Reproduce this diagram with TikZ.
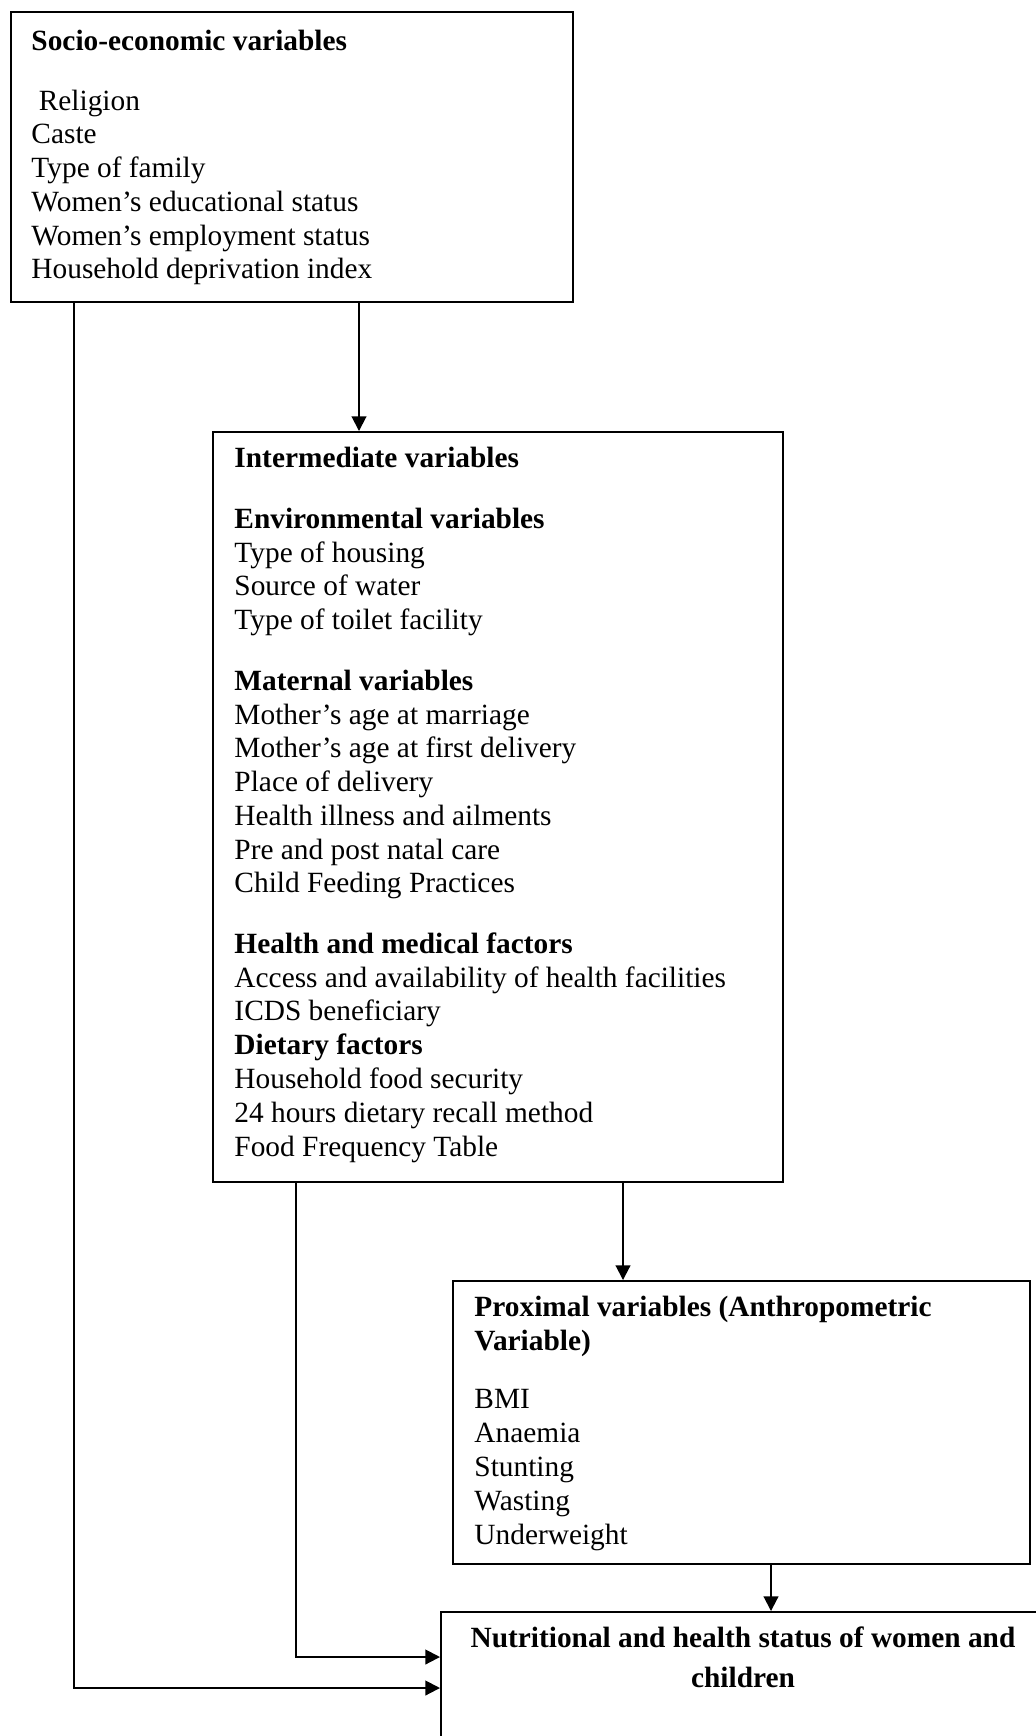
\documentclass[tikz,border=0pt]{standalone}
\usepackage{fontspec}
\setmainfont{Liberation Serif}
\usetikzlibrary{positioning,fit,arrows.meta}

\begin{document}
\begin{tikzpicture}[x=0.4088pt,y=-0.4088pt,
    box/.style={draw,line width=0.8pt,inner sep=0pt},
    txt/.style={inner sep=0pt,align=left,anchor=base west,font=\fontsize{12}{13.8}\selectfont},
    flow/.style={line width=0.8pt,-{Triangle[length=6pt,width=6pt]}}]
        \useasboundingbox (0,0) rectangle (1035,1736);
        \node[box,fit={(11,12) (573,302)}] (socio) {};
        \node[box,fit={(213,432) (783,1182)}] (inter) {};
        \node[box,fit={(453,1281) (1030,1564)}] (prox) {};
        \node[box,fit={(441,1612) (1045,1760)}] (status) {};
        % multi-line nodes sit on the baseline of their last line
        \node[txt] (sociotxt) at (31,279) {\textbf{Socio-economic variables}\\[10.7pt]
            \hspace{3pt}Religion\\Caste\\Type of family\\Women’s educational status\\Women’s employment status\\Household deprivation index};
        \node[txt] (intertxt) at (234,1156) {\textbf{Intermediate variables}\\[11pt]
            \textbf{Environmental variables}\\Type of housing\\Source of water\\Type of toilet facility\\[11pt]
            \textbf{Maternal variables}\\Mother’s age at marriage\\Mother’s age at first delivery\\Place of delivery\\Health illness and ailments\\Pre and post natal care\\Child Feeding Practices\\[11pt]
            \textbf{Health and medical factors}\\Access and availability of health facilities\\ICDS beneficiary\\\textbf{Dietary factors}\\Household food security\\24 hours dietary recall method\\Food Frequency Table};
        \node[txt] (proxtxt) at (474,1544) {\textbf{Proximal variables (Anthropometric}\\\textbf{Variable)}\\[10.3pt]
            BMI\\Anaemia\\Stunting\\Wasting\\Underweight};
        \node[txt,anchor=base,align=center,font=\bfseries\fontsize{12}{16.35}\selectfont] (statustxt) at (743,1687) {Nutritional and health status of women and\\children};
        \coordinate (downsocio) at (359,0);
        \coordinate (downinter) at (623,0);
        \coordinate (downprox) at (771,0);
        \coordinate (sidesocio) at (74,1688);
        \coordinate (sideinter) at (296,1657);
        \draw[flow] (socio.south -| downsocio) -- (inter.north -| downsocio);
        \draw[flow] (inter.south -| downinter) -- (prox.north -| downinter);
        \draw[flow] (prox.south -| downprox) -- (status.north -| downprox);
        \draw[flow] (socio.south -| sidesocio) |- (sidesocio -| status.west);
        \draw[flow] (inter.south -| sideinter) |- (sideinter -| status.west);
\end{tikzpicture}
\end{document}
